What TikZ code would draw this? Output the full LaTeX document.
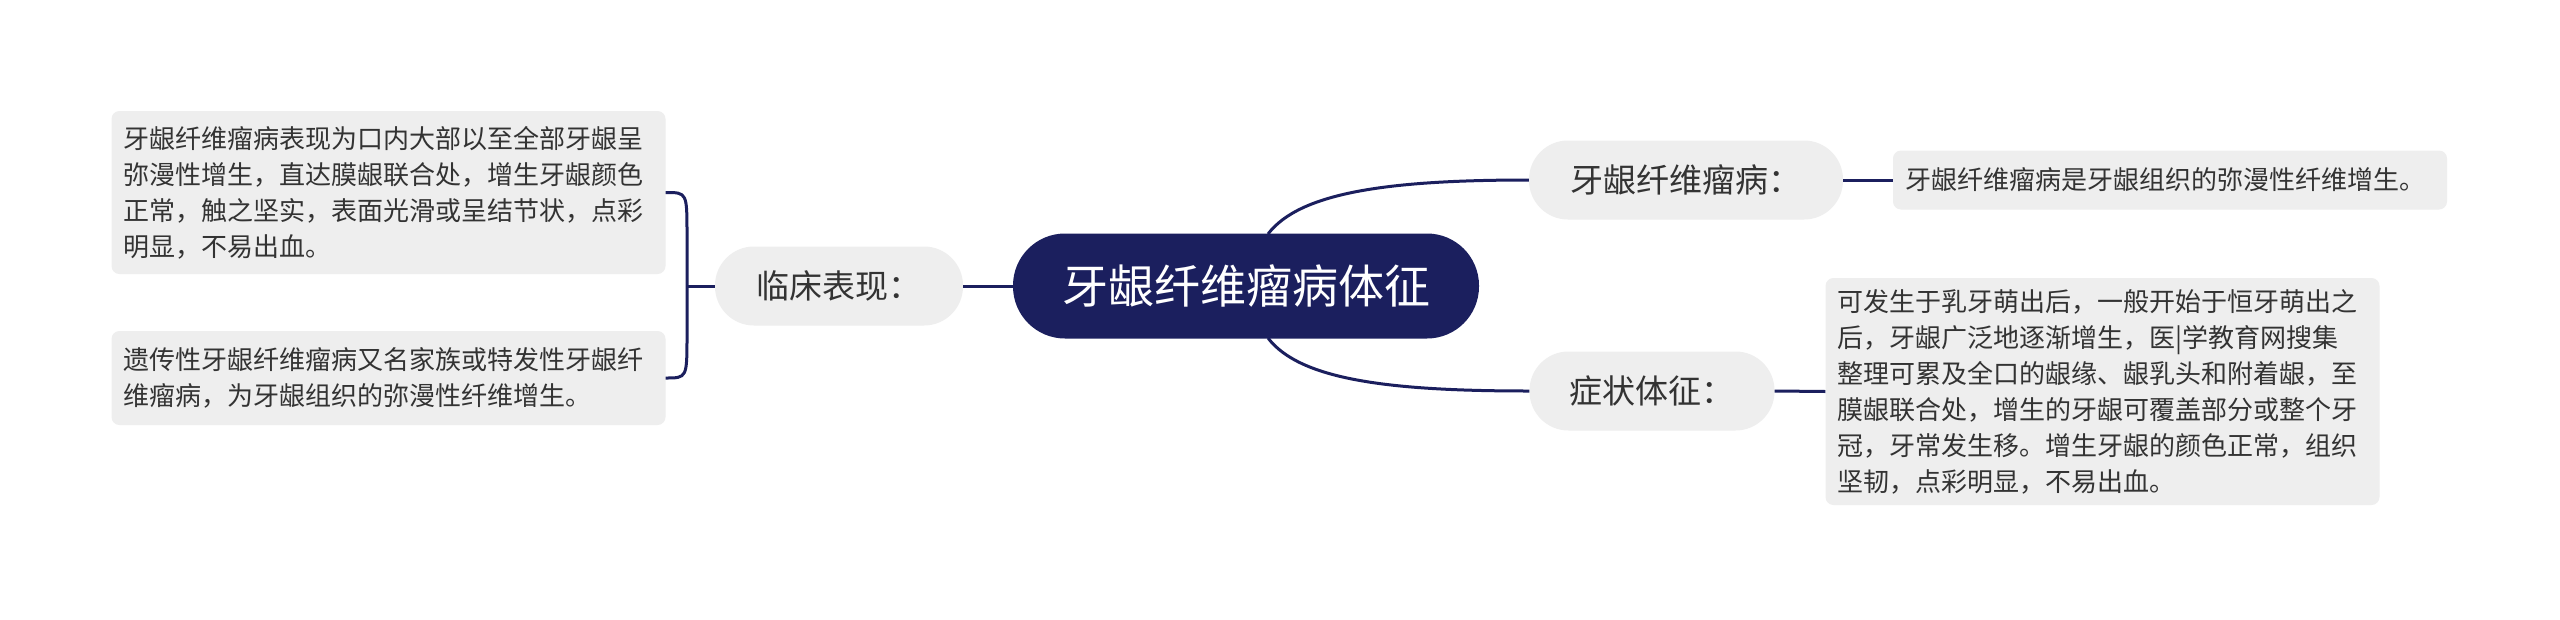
\documentclass[tikz,border=0pt]{standalone}
\usepackage{fontspec}
\setmainfont{Noto Sans CJK SC}
\definecolor{navy}{HTML}{1B1F5E}
\definecolor{grayfill}{HTML}{EEEEEE}
\definecolor{txt}{HTML}{333333}
\begin{document}
\begin{tikzpicture}[x=1pt,y=-1pt,
  conn/.style={draw=navy,line width=3pt},
  root/.style={fill=navy,text=white,rounded corners=52pt,minimum width=466pt,minimum height=105pt,inner sep=0pt,font=\fontsize{46}{50}\selectfont},
  mid/.style={fill=grayfill,text=txt,rounded corners=39pt,minimum height=79pt,inner sep=0pt,font=\fontsize{33}{38}\selectfont},
  leaf/.style={fill=grayfill,text=txt,rounded corners=8pt,align=left,text width=530pt,inner xsep=12pt,inner ysep=0pt,font=\fontsize{26}{36}\selectfont}]
\useasboundingbox[fill=white] (0,0) rectangle (2560,619);

\node[root] (c) at (1246,286) {牙龈纤维瘤病体征};
\node[mid,minimum width=248pt] (lc) at (839,286) {临床表现：};
\node[mid,minimum width=314pt] (yy) at (1686,180) {牙龈纤维瘤病：};
\node[mid,minimum width=245pt] (zz) at (1652,391) {症状体征：};

\node[leaf,minimum height=163pt] (b1) at (388.5,192.5) {牙龈纤维瘤病表现为口内大部以至全部牙龈呈\\弥漫性增生，直达膜龈联合处，增生牙龈颜色\\正常，触之坚实，表面光滑或呈结节状，点彩\\明显，不易出血。};
\node[leaf,minimum height=94pt] (b2) at (388.5,378) {遗传性牙龈纤维瘤病又名家族或特发性牙龈纤\\维瘤病，为牙龈组织的弥漫性纤维增生。};
\node[leaf,minimum height=59pt] (r1) at (2170,180) {牙龈纤维瘤病是牙龈组织的弥漫性纤维增生。};
\node[leaf,minimum height=227pt] (r2) at (2102.5,391.5) {可发生于乳牙萌出后，一般开始于恒牙萌出之\\后，牙龈广泛地逐渐增生，医|学教育网搜集\\整理可累及全口的龈缘、龈乳头和附着龈，至\\膜龈联合处，增生的牙龈可覆盖部分或整个牙\\冠，牙常发生移。增生牙龈的颜色正常，组织\\坚韧，点彩明显，不易出血。};

\coordinate (ct) at (1268,234);
\coordinate (cb) at (1268,338);
\coordinate (br) at (687,286);

\draw[conn] (c.west) -- (lc.east);
\draw[conn] (ct) .. controls (1300,192) and (1390,180) .. (yy.west);
\draw[conn] (cb) .. controls (1300,380) and (1390,391) .. (zz.west);
\draw[conn] (yy.east) -- (r1.west);
\draw[conn] (zz.east) -- (r2.west);
\draw[conn] (lc.west) -- (br);
\draw[conn] (b1.east) .. controls (687,192.5) .. (687,235) -- (br) -- (687,335) .. controls (687,378) .. (b2.east);
\end{tikzpicture}
\end{document}
